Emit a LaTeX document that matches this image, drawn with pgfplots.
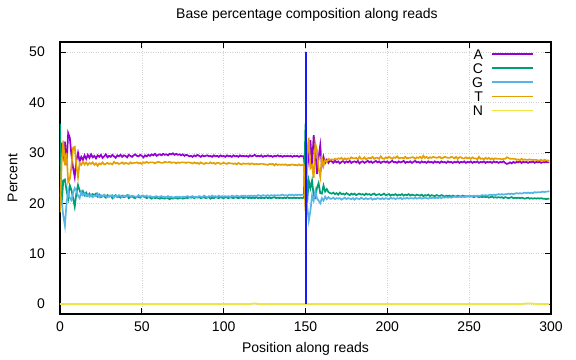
\documentclass[border=0pt]{standalone}
\usepackage{pgfplots}
\usepackage{pgfplotstable}
\pgfplotsset{compat=1.18}
\usepackage{fontspec}
\setmainfont{Liberation Sans}
\definecolor{cA}{HTML}{9400D3}
\definecolor{cC}{HTML}{009E73}
\definecolor{cG}{HTML}{56B4E9}
\definecolor{cT}{HTML}{E69F00}
\definecolor{cN}{HTML}{F0E442}
\definecolor{cB}{HTML}{1A1AFF}
\pgfplotstableread{
x A C G T N
0 26.0 35.8 22.0 18.2 0
1 32.0 19.8 20.5 28.0 0
2 29.5 24.5 17.5 32.4 0
3 32.2 24.7 15.5 27.5 0
4 27.6 22.5 20.0 30.0 0
5 33.9 20.9 22.6 24.2 0
6 33.0 23.5 21.0 24.8 0
7 29.5 22.6 20.6 27.3 0
8 27.0 21.0 22.0 31.0 0
9 25.2 19.3 23.0 31.2 0
10 28.5 22.0 22.5 27.5 0
11 30.0 23.6 21.5 25.2 0
12 28.3 22.5 21.0 28.0 0
13 29.2 21.8 22.3 27.6 0
14 28.6 22.4 21.6 28.2 0
15 29.5 21.6 22.0 27.7 0
16 28.8 22.1 21.4 28.1 0
17 29.6 21.5 21.8 27.6 0
18 29.0 21.9 21.3 28.0 0
19 29.7 21.4 21.7 27.8 0
20 29.1 21.8 21.2 28.1 0
21 29.4 21.6 21.5 27.6 0
22 28.9 21.9 21.4 27.9 0
23 29.5 21.3 21.9 27.4 0
24 29.2 21.7 21.2 27.9 0
25 29.6 21.2 21.6 27.7 0
26 29.0 21.5 21.3 28.1 0
27 29.3 21.4 21.7 27.7 0
28 29.7 21.1 21.4 27.8 0
29 29.1 21.6 21.2 28.0 0
30 29.4 21.3 21.5 27.8 0
31 29.2 21.5 21.4 27.9 0
32 29.6 21.0 21.6 27.7 0
33 29.3 21.4 21.1 28.2 0
34 29.0 21.6 21.5 27.9 0
35 29.5 21.2 21.3 28.0 0
36 29.3 21.3 21.6 27.8 0
37 29.6 21.1 21.4 27.9 0
38 29.2 21.5 21.2 28.1 0
39 29.5 21.2 21.5 27.8 0
40 29.4 21.3 21.3 28.0 0
41 29.1 21.6 21.4 27.9 0
42 29.6 21.0 21.6 27.8 0
43 29.4 21.2 21.3 28.1 0
44 29.2 21.4 21.5 27.9 0
45 29.5 21.1 21.4 28.0 0
46 29.7 21.0 21.3 28.0 0
47 29.4 21.3 21.2 28.1 0
48 29.3 21.2 21.6 27.9 0
49 29.6 21.1 21.3 28.0 0
50 29.4 21.4 21.4 27.8 0
51 29.1 21.3 21.5 28.1 0
52 29.5 21.2 21.3 28.0 0
53 29.3 21.0 21.5 28.2 0
54 29.6 21.2 21.2 28.0 0
55 29.4 21.1 21.4 28.1 0
56 29.7 20.9 21.3 28.1 0
57 29.5 21.2 21.2 28.1 0
58 29.8 21.0 21.3 27.9 0
59 29.4 21.1 21.4 28.1 0
60 29.6 21.0 21.2 28.2 0
61 29.7 20.9 21.3 28.1 0
62 29.5 21.1 21.4 28.0 0
63 29.8 21.0 21.2 28.0 0
64 29.6 20.9 21.3 28.2 0
65 29.7 21.1 21.1 28.1 0
66 29.5 21.0 21.4 28.1 0
67 29.8 20.8 21.2 28.2 0
68 29.7 21.0 21.3 28.0 0
69 29.9 20.9 21.1 28.1 0
70 29.6 21.1 21.2 28.1 0
71 29.8 21.0 21.3 27.9 0
72 29.6 20.9 21.2 28.1 0
73 29.7 21.0 21.3 28.0 0
74 29.5 21.1 21.1 28.1 0
75 29.7 20.9 21.3 28.1 0
76 29.4 21.0 21.2 28.1 0
77 29.6 21.1 21.3 28.0 0
78 29.5 21.0 21.4 28.1 0
79 29.3 21.2 21.2 28.1 0
80 29.4 21.1 21.3 28.0 0
81 29.2 21.2 21.4 27.9 0
82 29.5 21.0 21.2 28.1 0
83 29.3 21.2 21.3 27.9 0
84 29.6 21.1 21.2 28.0 0
85 29.4 21.2 21.4 27.8 0
86 29.2 21.0 21.3 28.1 0
87 29.5 21.1 21.2 27.9 0
88 29.3 21.2 21.5 27.8 0
89 29.4 21.0 21.3 28.0 0
90 29.5 21.1 21.2 27.9 0
91 29.3 21.2 21.4 27.9 0
92 29.4 20.9 21.3 28.1 0
93 29.2 21.1 21.5 27.9 0
94 29.5 21.0 21.3 28.0 0
95 29.3 21.2 21.4 27.8 0
96 29.4 21.1 21.2 28.0 0
97 29.2 21.0 21.5 28.0 0
98 29.5 21.2 21.3 27.8 0
99 29.3 21.1 21.4 27.9 0
100 29.4 21.0 21.3 28.0 0
101 29.2 21.2 21.4 27.9 0
102 29.5 21.1 21.3 27.8 0
103 29.3 21.0 21.4 28.0 0
104 29.4 21.2 21.2 27.9 0
105 29.2 21.1 21.5 27.9 0
106 29.5 21.0 21.4 27.8 0
107 29.3 21.2 21.3 27.9 0
108 29.4 21.1 21.5 27.7 0
109 29.2 21.0 21.4 28.0 0
110 29.5 21.1 21.3 27.8 0
111 29.3 21.2 21.5 27.7 0
112 29.4 21.0 21.4 27.9 0
113 29.3 21.1 21.5 27.8 0
114 29.4 21.2 21.3 27.8 0
115 29.2 21.0 21.5 27.9 0
116 29.5 21.1 21.4 27.7 0
117 29.3 21.0 21.5 27.9 0
118 29.4 21.1 21.4 27.8 0.1
119 29.6 21.0 21.5 27.7 0.1
120 29.3 21.2 21.4 27.8 0.1
121 29.4 21.0 21.6 27.7 0
122 29.3 21.1 21.5 27.8 0
123 29.5 21.0 21.4 27.8 0
124 29.2 21.1 21.6 27.8 0
125 29.4 21.0 21.5 27.7 0
126 29.3 21.2 21.5 27.7 0
127 29.5 21.0 21.6 27.6 0
128 29.3 21.1 21.4 27.8 0
129 29.4 21.0 21.6 27.7 0
130 29.2 21.1 21.5 27.8 0
131 29.4 21.2 21.6 27.5 0
132 29.3 21.0 21.5 27.8 0
133 29.5 21.1 21.6 27.6 0
134 29.3 21.0 21.5 27.7 0
135 29.4 21.1 21.6 27.6 0
136 29.2 21.0 21.7 27.7 0
137 29.4 21.1 21.5 27.6 0
138 29.3 21.0 21.6 27.7 0
139 29.4 21.2 21.5 27.5 0
140 29.3 21.0 21.7 27.6 0
141 29.4 21.1 21.6 27.6 0
142 29.2 21.0 21.7 27.7 0
143 29.4 21.1 21.5 27.6 0
144 29.3 21.0 21.7 27.6 0
145 29.4 21.1 21.6 27.5 0
146 29.2 21.0 21.7 27.7 0
147 29.4 21.1 21.6 27.5 0
148 29.3 21.0 21.7 27.6 0
149 29.3 21.1 21.6 27.6 0
150 25.5 35.8 21.5 18.5 0
151 31.0 20.0 19.5 29.5 0
152 28.5 24.5 16.5 33.0 0
153 32.5 23.0 18.5 27.0 0
154 27.5 24.5 21.5 27.5 0
155 33.5 21.5 20.5 25.0 0
156 30.5 21.1 22.5 31.8 0
157 25.8 23.0 21.0 30.5 0
158 29.0 24.0 20.5 27.0 0
159 31.5 22.0 20.0 25.2 0
160 27.5 21.9 21.0 29.0 0
161 29.2 23.5 20.5 27.4 0
162 28.0 22.3 21.3 28.6 0
163 28.6 22.8 20.8 28.2 0
164 28.0 22.2 21.2 28.8 0
165 28.5 22.0 20.9 28.6 0
166 28.3 21.9 20.9 28.7 0
167 28.0 22.1 21.1 28.6 0
168 28.4 21.8 20.8 28.8 0
169 28.1 22.0 21.0 28.7 0
170 28.3 21.7 20.9 28.9 0
171 27.9 22.1 21.0 28.8 0
172 28.2 21.8 20.7 29.0 0
173 28.4 21.9 20.9 28.6 0
174 28.0 21.7 21.1 28.9 0
175 28.3 22.0 20.8 28.7 0
176 28.1 21.8 21.0 28.9 0
177 28.4 21.6 20.9 28.8 0
178 28.0 21.9 20.8 29.1 0
179 28.2 21.7 21.0 28.9 0
180 28.3 21.9 20.7 28.9 0
181 28.1 21.6 21.0 29.0 0
182 28.4 21.8 20.9 28.7 0
183 27.9 21.9 20.8 29.2 0
184 28.2 21.7 21.1 28.8 0
185 28.3 21.8 20.9 28.8 0
186 28.0 21.6 20.8 29.1 0
187 28.2 21.9 21.0 28.7 0
188 28.4 21.7 20.8 28.9 0
189 28.1 21.8 20.9 29.0 0
190 28.3 21.6 21.0 28.9 0
191 28.0 21.8 20.7 29.2 0
192 28.2 21.9 20.9 28.8 0
193 28.4 21.6 20.8 29.0 0
194 28.1 21.7 21.0 29.0 0
195 28.3 21.8 20.9 28.8 0
196 28.0 21.6 20.8 29.3 0
197 28.2 21.7 21.0 28.9 0
198 28.3 21.9 20.8 28.8 0
199 28.1 21.6 21.0 29.1 0
200 28.3 21.7 20.9 28.9 0
201 28.0 21.8 20.8 29.2 0
202 28.2 21.5 21.1 29.0 0
203 28.4 21.7 20.9 28.8 0
204 28.1 21.6 21.0 29.1 0
205 28.2 21.8 20.8 29.0 0
206 28.0 21.5 21.0 29.3 0
207 28.3 21.7 20.9 28.9 0
208 28.1 21.6 21.1 29.0 0
209 28.2 21.8 20.8 29.0 0
210 28.4 21.5 21.0 28.9 0
211 28.0 21.7 20.9 29.2 0
212 28.2 21.6 21.1 28.9 0
213 28.1 21.8 20.9 29.0 0
214 28.3 21.5 21.0 29.0 0
215 28.0 21.7 21.0 29.1 0
216 28.2 21.6 20.9 29.1 0
217 28.4 21.5 21.1 28.8 0
218 28.1 21.7 20.9 29.1 0
219 28.2 21.6 21.0 29.0 0
220 28.0 21.5 21.1 29.2 0
221 28.3 21.7 20.9 28.9 0
222 28.1 21.4 21.0 29.4 0
223 28.2 21.6 21.1 29.0 0
224 28.0 21.5 21.0 29.2 0
225 28.3 21.7 20.9 28.9 0
226 28.1 21.4 21.1 29.1 0
227 28.2 21.6 21.0 29.0 0
228 28.0 21.5 21.1 29.2 0
229 28.3 21.4 21.0 29.1 0
230 28.1 21.6 21.1 29.0 0
231 28.2 21.5 21.0 29.1 0
232 28.0 21.4 21.2 29.2 0
233 28.3 21.6 21.0 28.9 0
234 28.1 21.5 21.2 29.0 0
235 28.2 21.3 21.1 29.2 0
236 28.0 21.5 21.2 29.1 0
237 28.3 21.4 21.1 29.0 0
238 28.1 21.5 21.2 29.0 0
239 28.2 21.3 21.1 29.2 0
240 28.0 21.5 21.2 29.1 0
241 28.2 21.4 21.3 28.9 0
242 28.1 21.3 21.2 29.2 0
243 28.3 21.5 21.2 28.8 0
244 28.0 21.4 21.3 29.1 0
245 28.2 21.3 21.2 29.1 0
246 28.1 21.5 21.3 28.9 0
247 28.3 21.4 21.2 28.9 0
248 28.0 21.3 21.4 29.1 0
249 28.2 21.4 21.3 28.9 0
250 28.1 21.3 21.4 29.0 0
251 28.3 21.4 21.3 28.8 0
252 28.0 21.3 21.4 29.1 0
253 28.2 21.2 21.5 28.9 0
254 28.1 21.4 21.4 28.9 0
255 28.3 21.3 21.5 28.7 0
256 28.0 21.2 21.4 29.2 0
257 28.2 21.3 21.5 28.8 0
258 28.1 21.2 21.6 28.9 0
259 28.3 21.3 21.5 28.7 0
260 28.0 21.2 21.6 29.0 0
261 28.2 21.3 21.5 28.8 0
262 28.1 21.1 21.6 29.0 0
263 28.2 21.2 21.7 28.7 0
264 28.0 21.3 21.6 28.9 0
265 28.3 21.1 21.7 28.7 0
266 28.1 21.2 21.6 28.9 0
267 28.2 21.1 21.7 28.8 0
268 28.0 21.2 21.8 28.8 0
269 28.2 21.1 21.7 28.8 0
270 28.1 21.2 21.8 28.7 0
271 28.3 21.0 21.7 28.8 0
272 28.0 21.2 21.8 28.8 0
273 27.8 21.1 21.8 29.1 0
274 27.9 21.0 21.9 29.0 0
275 28.1 21.1 21.8 28.8 0
276 27.9 21.2 21.9 28.8 0
277 28.2 21.0 21.8 28.8 0
278 28.0 21.1 21.9 28.8 0
279 28.2 21.0 22.0 28.6 0
280 28.1 21.1 21.9 28.7 0
281 28.3 21.0 22.0 28.5 0
282 28.0 21.1 21.9 28.8 0
283 28.2 21.0 22.0 28.6 0
284 28.1 20.9 22.1 28.7 0.1
285 28.2 21.0 22.0 28.6 0.1
286 28.0 21.1 22.1 28.6 0.1
287 28.2 20.9 22.0 28.7 0.1
288 28.1 21.0 22.1 28.6 0.1
289 28.3 20.9 22.0 28.6 0.1
290 28.0 21.0 22.2 28.6 0
291 28.2 20.9 22.1 28.6 0
292 28.1 21.0 22.2 28.5 0
293 28.2 20.9 22.2 28.5 0
294 28.0 21.0 22.2 28.6 0
295 28.2 20.9 22.3 28.4 0
296 28.1 20.9 22.2 28.6 0
297 28.2 20.8 22.3 28.5 0
298 28.1 20.9 22.3 28.5 0
299 28.1 20.9 22.4 28.4 0
}\data
\begin{document}
\begin{tikzpicture}[font=\fontsize{14bp}{17bp}\selectfont]
\useasboundingbox (-60bp,-46bp) rectangle (516bp,314bp);
\begin{axis}[
  at={(0,0)}, anchor=south west,
  scale only axis,
  width=491bp, height=272bp,
  xmin=0, xmax=300, ymin=-2, ymax=52,
  xtick={0,50,...,300}, ytick={0,10,...,50},
  tick pos=both, tick align=inside,
  major tick length=6bp,
  axis line style={line width=1.3bp, black},
  every tick/.style={black, line width=0.8bp},
  grid=major,
  grid style={dotted, line width=0.5bp, gray!35},
  /pgf/number format/assume math mode=true,
  yticklabel style={anchor=east, inner sep=0pt, xshift=-15bp},
  xticklabel style={anchor=north, inner sep=0pt, yshift=-8bp},
  title={Base percentage composition along reads},
  title style={at={(axis description cs:0.503,1.0772)}, anchor=center, inner sep=0pt},
  xlabel={Position along reads},
  xlabel style={at={(axis description cs:0.5,-0.1287)}, anchor=center, inner sep=0pt},
  ylabel={Percent},
  ylabel style={at={(axis description cs:-0.0963,0.5)}, anchor=center, inner sep=0pt},
  legend plot pos=right,
  legend cell align=right,
  legend image code/.code={\draw[#1, line width=1.8bp] (0bp,0bp) -- (41bp,0bp);},
  legend style={draw=none, fill=none, inner sep=0pt,
    at={(axis description cs:0.9654,0.9743)}, anchor=north east,
    row sep=4.1bp, column sep=8bp,
    nodes={inner sep=0pt, text height=10bp, text depth=0bp}},
]
\addplot[cA, line width=1.7bp] table[x=x,y=A] {\data}; \addlegendentry{A}
\addplot[cC, line width=1.7bp] table[x=x,y=C] {\data}; \addlegendentry{C}
\addplot[cG, line width=1.7bp] table[x=x,y=G] {\data}; \addlegendentry{G}
\addplot[cT, line width=1.7bp] table[x=x,y=T] {\data}; \addlegendentry{T}
\addplot[cN, line width=1.7bp] table[x=x,y=N] {\data}; \addlegendentry{N}
\addplot[draw=cB, line width=2bp, forget plot] coordinates {(150,0) (150,50)};
\end{axis}
\end{tikzpicture}
\end{document}
